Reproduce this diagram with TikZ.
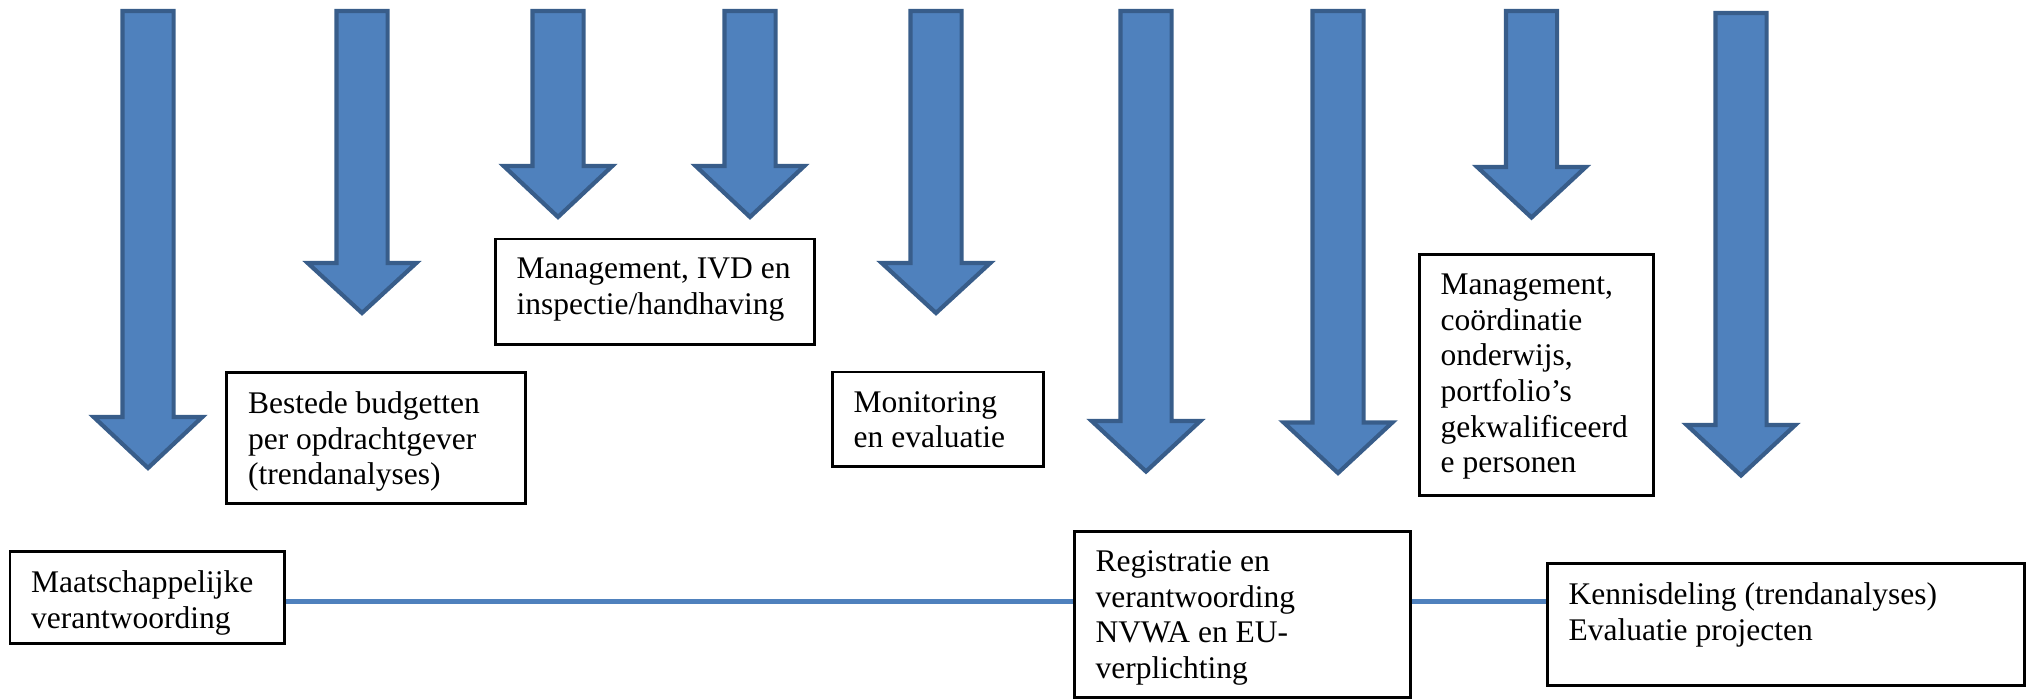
\documentclass[tikz,border=0pt]{standalone}
\usepackage{fontspec}
\setmainfont{Liberation Serif}
\definecolor{arrowfill}{HTML}{4F81BD}
\definecolor{arrowedge}{HTML}{385D8A}
\definecolor{linkblue}{HTML}{4F81BD}

% Thick block arrow pointing down: #1 centre x, #2 top, #3 start of head, #4 tip
\newcommand{\downblock}[4]{%
  \draw[blockarrow] ({#1-25.6},#2) -- ({#1+25.6},#2) -- ({#1+25.6},#3)
    -- ({#1+54.3},#3) -- (#1,#4) -- ({#1-54.3},#3) -- ({#1-25.6},#3) -- cycle;}

\begin{document}
\begin{tikzpicture}[x=1pt,y=-1pt,
  blockarrow/.style={fill=arrowfill,draw=arrowedge,line width=4.2pt},
  box/.style={draw=black,line width=2.8pt,fill=white,inner sep=0pt},
  boxtext/.style={anchor=north west,inner sep=0pt,align=left,
    font=\fontsize{31.5}{35.7}\selectfont},
  link/.style={draw=linkblue,line width=4.5pt}]
\useasboundingbox (0,0) rectangle (2026,699);

% arrows
\downblock{148}{11}{417}{468}
\downblock{362}{11}{263}{313}
\downblock{558}{11}{166}{217}
\downblock{750}{11}{166}{217}
\downblock{936}{11}{263}{313}
\downblock{1146}{11}{421}{471.5}
\downblock{1338}{11}{422.5}{473}
\downblock{1531.5}{11}{167}{217.5}
\downblock{1741}{13}{425}{475.5}

% boxes
\node[box,minimum width=274.4pt,minimum height=92.2pt] (maat) at (147.1,597.5) {};
\node[box,minimum width=298.6pt,minimum height=131.2pt] (best) at (376.1,438) {};
\node[box,minimum width=319.2pt,minimum height=105.7pt] (mgmt) at (655,291.75) {};
\node[box,minimum width=211.2pt,minimum height=94.7pt] (monit) at (938,419.25) {};
\node[box,minimum width=335.7pt,minimum height=165.7pt] (reg) at (1242.25,614.25) {};
\node[box,minimum width=234.2pt,minimum height=241.2pt] (mgmtb) at (1536.5,375) {};
\node[box,minimum width=476.7pt,minimum height=121.7pt] (kennis) at (1785.75,624.25) {};

% box texts
\node[boxtext] (maatt) at ([xshift=22.5pt,yshift=-20.5pt]maat.north west)
  {Maatschappelijke\\verantwoording};
\node[boxtext] (bestt) at ([xshift=22.5pt,yshift=-20.5pt]best.north west)
  {Bestede budgetten\\per opdrachtgever\\(trendanalyses)};
\node[boxtext] (mgmtt) at ([xshift=22.5pt,yshift=-20.5pt]mgmt.north west)
  {Management, IVD en\\inspectie/handhaving};
\node[boxtext] (monitt) at ([xshift=22.5pt,yshift=-20.5pt]monit.north west)
  {Monitoring\\en evaluatie};
\node[boxtext] (regt) at ([xshift=22.5pt,yshift=-20.5pt]reg.north west)
  {Registratie en\\verantwoording\\NVWA en EU-\\verplichting};
\node[boxtext] (mgmtbt) at ([xshift=22.5pt,yshift=-20.5pt]mgmtb.north west)
  {Management,\\coördinatie\\onderwijs,\\portfolio’s\\gekwalificeerd\\e personen};
\node[boxtext] (kennist) at ([xshift=22.5pt,yshift=-20.5pt]kennis.north west)
  {Kennisdeling (trendanalyses)\\Evaluatie projecten};

% connecting lines
\coordinate (rail) at (0,601.7);
\draw[link] (maat.east |- rail) -- (reg.west |- rail);
\draw[link] (reg.east |- rail) -- (kennis.west |- rail);
\end{tikzpicture}
\end{document}
